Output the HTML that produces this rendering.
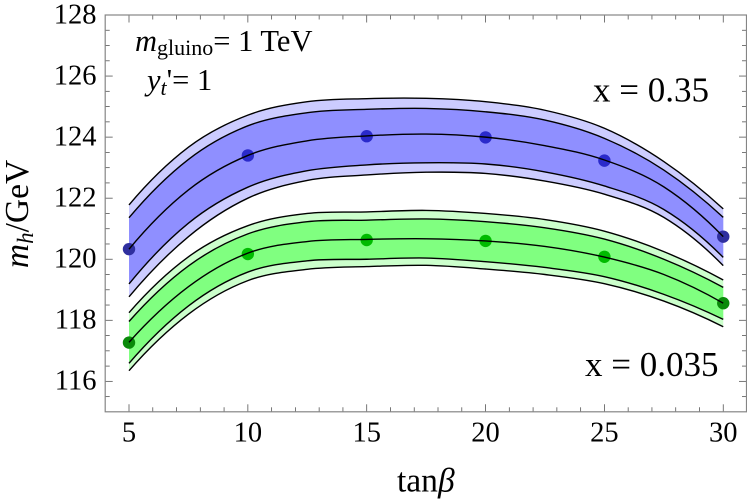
<!DOCTYPE html>
<html lang="en">
<head>
<meta charset="utf-8">
<title>Higgs mass vs tan beta</title>
<style>
html,body{margin:0;padding:0;background:#fff;}
svg{display:block;}
text{font-family:"Liberation Serif",serif;fill:#000;}
</style>
</head>
<body>
<svg id="chart" xmlns="http://www.w3.org/2000/svg" width="747" height="499" viewBox="0 0 747 499">
  <g id="bands"></g>
  <g id="ticks"></g>
  <rect x="105.2" y="15" width="641.3" height="396.8" fill="none" stroke="#858585" stroke-width="1.2"/>
  <g id="tick-labels" font-size="28.5"></g>
  <text transform="translate(28,214) rotate(-90)" text-anchor="middle" font-size="33.5"><tspan font-style="italic">m</tspan><tspan font-style="italic" font-size="23" dy="5">h</tspan><tspan dy="-5">/GeV</tspan></text>
  <text x="397" y="491.5" font-size="33.5">tan<tspan font-style="italic">β</tspan></text>
  <text x="135" y="51" font-size="30.5"><tspan font-style="italic">m</tspan><tspan font-size="22" dy="4">gluino</tspan><tspan dy="-4">= 1 TeV</tspan></text>
  <text x="147" y="90" font-size="30.5"><tspan font-style="italic">y</tspan><tspan font-style="italic" font-size="22" dy="5">t</tspan><tspan dy="-5">'= 1</tspan></text>
  <text x="593" y="101.5" font-size="35">x = 0.35</text>
  <text x="585" y="376" font-size="35">x = 0.035</text>
</svg>
<script>
var curveX = [5, 7.5, 10, 12.5, 15, 17.5, 20, 22.5, 25, 27.5, 30];
var blueOuterTop = [121.78, 123.67, 124.72, 125.16, 125.26, 125.27, 125.16, 124.88, 124.29, 123.20, 121.65];
var blueInnerTop = [121.36, 123.27, 124.37, 124.80, 124.91, 124.94, 124.83, 124.56, 123.96, 122.92, 121.37];
var blueCenter = [120.33, 122.27, 123.40, 123.88, 124.04, 124.10, 124.00, 123.72, 123.25, 122.37, 120.74];
var blueInnerBottom = [119.19, 121.18, 122.36, 122.90, 123.09, 123.16, 123.12, 122.86, 122.40, 121.63, 120.06];
var blueOuterBottom = [118.77, 120.74, 122.00, 122.58, 122.76, 122.85, 122.81, 122.56, 122.13, 121.37, 119.79];
var greenOuterTop = [118.25, 120.08, 121.10, 121.50, 121.55, 121.60, 121.50, 121.30, 120.92, 120.25, 119.32];
var greenInnerTop = [117.96, 119.78, 120.83, 121.23, 121.28, 121.32, 121.23, 121.03, 120.66, 120.00, 119.08];
var greenCenter = [117.28, 119.10, 120.20, 120.58, 120.65, 120.67, 120.60, 120.42, 120.07, 119.50, 118.56];
var greenInnerBottom = [116.59, 118.47, 119.58, 119.95, 120.00, 120.04, 119.92, 119.73, 119.43, 118.85, 118.03];
var greenOuterBottom = [116.35, 118.20, 119.30, 119.67, 119.76, 119.80, 119.68, 119.50, 119.20, 118.63, 117.79];
var pointX = [5, 10, 15, 20, 25, 30];
var bluePoints = [120.33, 123.40, 124.03, 123.99, 123.23, 120.74];
var greenPoints = [117.27, 120.17, 120.63, 120.60, 120.08, 118.56];
var xTickLabels = [5, 10, 15, 20, 25, 30];
var yTickLabels = [116, 118, 120, 122, 124, 126, 128];
var xMinorTicks = [5, 6, 7, 8, 9, 10, 11, 12, 13, 14, 15, 16, 17, 18, 19, 20, 21, 22, 23, 24, 25, 26, 27, 28, 29, 30];
var yMinorTicks = [115.5, 116, 116.5, 117, 117.5, 118, 118.5, 119, 119.5, 120, 120.5, 121, 121.5, 122, 122.5, 123, 123.5, 124, 124.5, 125, 125.5, 126, 126.5, 127, 127.5];

var SVG_NS = 'http://www.w3.org/2000/svg';
function xScale(v) { return 129 + (v - 5) * 23.77; }
function yScale(v) { return 15 + (128 - v) * 30.53; }

function segments(xs, ys) {
  var px = xs.map(xScale), py = ys.map(yScale);
  var n = px.length;
  var dy = [];
  var i;
  for (i = 0; i < n; i++) {
    if (i === 0) {
      dy.push((3 * (py[1] - py[0]) - (py[2] - py[1])) / 2);
    } else if (i === n - 1) {
      dy.push((3 * (py[n - 1] - py[n - 2]) - (py[n - 2] - py[n - 3])) / 2);
    } else {
      dy.push((py[i + 1] - py[i - 1]) / 2);
    }
  }
  var d = '';
  for (i = 0; i < n - 1; i++) {
    var hx = (px[i + 1] - px[i]) / 3;
    d += ' C' + (px[i] + hx).toFixed(2) + ' ' + (py[i] + dy[i] / 3).toFixed(2) + ' ' +
      (px[i + 1] - hx).toFixed(2) + ' ' + (py[i + 1] - dy[i + 1] / 3).toFixed(2) + ' ' +
      px[i + 1].toFixed(2) + ' ' + py[i + 1].toFixed(2);
  }
  return d;
}
function linePath(xs, ys) {
  return 'M' + xScale(xs[0]).toFixed(2) + ' ' + yScale(ys[0]).toFixed(2) + segments(xs, ys);
}
function bandPath(xs, top, bottom) {
  var rx = xs.slice().reverse();
  var rb = bottom.slice().reverse();
  return linePath(xs, top) + ' L' + xScale(rx[0]).toFixed(2) + ' ' + yScale(rb[0]).toFixed(2) + segments(rx, rb) + ' Z';
}

var bands = document.getElementById('bands');
var ticks = document.getElementById('ticks');
var labels = document.getElementById('tick-labels');

function addBand(top, bottom, fill, name) {
  var p = document.createElementNS(SVG_NS, 'path');
  p.setAttribute('d', bandPath(curveX, top, bottom));
  p.setAttribute('fill', fill);
  
  
  bands.appendChild(p);
}
function addLine(ys, name) {
  var p = document.createElementNS(SVG_NS, 'path');
  p.setAttribute('d', linePath(curveX, ys));
  p.setAttribute('fill', 'none');
  p.setAttribute('stroke', '#000');
  p.setAttribute('stroke-width', '1.4');
  
  
  bands.appendChild(p);
}
function addPoints(ys, inner, edge, name) {
  for (var i = 0; i < pointX.length; i++) {
    var c = document.createElementNS(SVG_NS, 'circle');
    c.setAttribute('cx', xScale(pointX[i]));
    c.setAttribute('cy', yScale(ys[i]));
    c.setAttribute('r', '6.2');
    c.setAttribute('fill', (i === 0 || i === pointX.length - 1) ? edge : inner);
    
    
    bands.appendChild(c);
  }
}

addBand(blueOuterTop, blueOuterBottom, '#ccccff', 'blue-outer-band');
addBand(blueInnerTop, blueInnerBottom, '#8f8fff', 'blue-inner-band');
addBand(greenOuterTop, greenOuterBottom, '#ccffcc', 'green-outer-band');
addBand(greenInnerTop, greenInnerBottom, '#80ff80', 'green-inner-band');
addPoints(bluePoints, '#2a2acb', '#2f2f9f', 'blue-point');
addPoints(greenPoints, '#00bb00', '#0a8a0a', 'green-point');
addLine(blueOuterTop, 'blue-outer-top-line');
addLine(blueInnerTop, 'blue-inner-top-line');
addLine(blueCenter, 'blue-center-line');
addLine(blueInnerBottom, 'blue-inner-bottom-line');
addLine(blueOuterBottom, 'blue-outer-bottom-line');
addLine(greenOuterTop, 'green-outer-top-line');
addLine(greenInnerTop, 'green-inner-top-line');
addLine(greenCenter, 'green-center-line');
addLine(greenInnerBottom, 'green-inner-bottom-line');
addLine(greenOuterBottom, 'green-outer-bottom-line');

function addTick(x1, y1, x2, y2) {
  var l = document.createElementNS(SVG_NS, 'line');
  l.setAttribute('x1', x1);
  l.setAttribute('y1', y1);
  l.setAttribute('x2', x2);
  l.setAttribute('y2', y2);
  l.setAttribute('stroke', '#555');
  l.setAttribute('stroke-width', '0.8');
  
  
  ticks.appendChild(l);
}
xMinorTicks.forEach(function (v) {
  var len = xTickLabels.indexOf(v) >= 0 ? 7.5 : 4.5;
  var x = xScale(v);
  addTick(x, 411.8, x, 411.8 - len);
  addTick(x, 15, x, 15 + len);
});
yMinorTicks.forEach(function (v) {
  var len = yTickLabels.indexOf(v) >= 0 ? 7.5 : 4.5;
  var y = yScale(v);
  addTick(105.2, y, 105.2 + len, y);
  addTick(746.5, y, 746.5 - len, y);
});

xTickLabels.forEach(function (v) {
  var t = document.createElementNS(SVG_NS, 'text');
  t.setAttribute('x', xScale(v));
  t.setAttribute('y', '441.5');
  t.setAttribute('text-anchor', 'middle');
  
  
  t.textContent = v;
  labels.appendChild(t);
});
yTickLabels.forEach(function (v) {
  var t = document.createElementNS(SVG_NS, 'text');
  t.setAttribute('x', '96.5');
  t.setAttribute('y', yScale(v) + 8.3);
  t.setAttribute('text-anchor', 'end');
  
  
  t.textContent = v;
  labels.appendChild(t);
});
</script>
</body>
</html>
